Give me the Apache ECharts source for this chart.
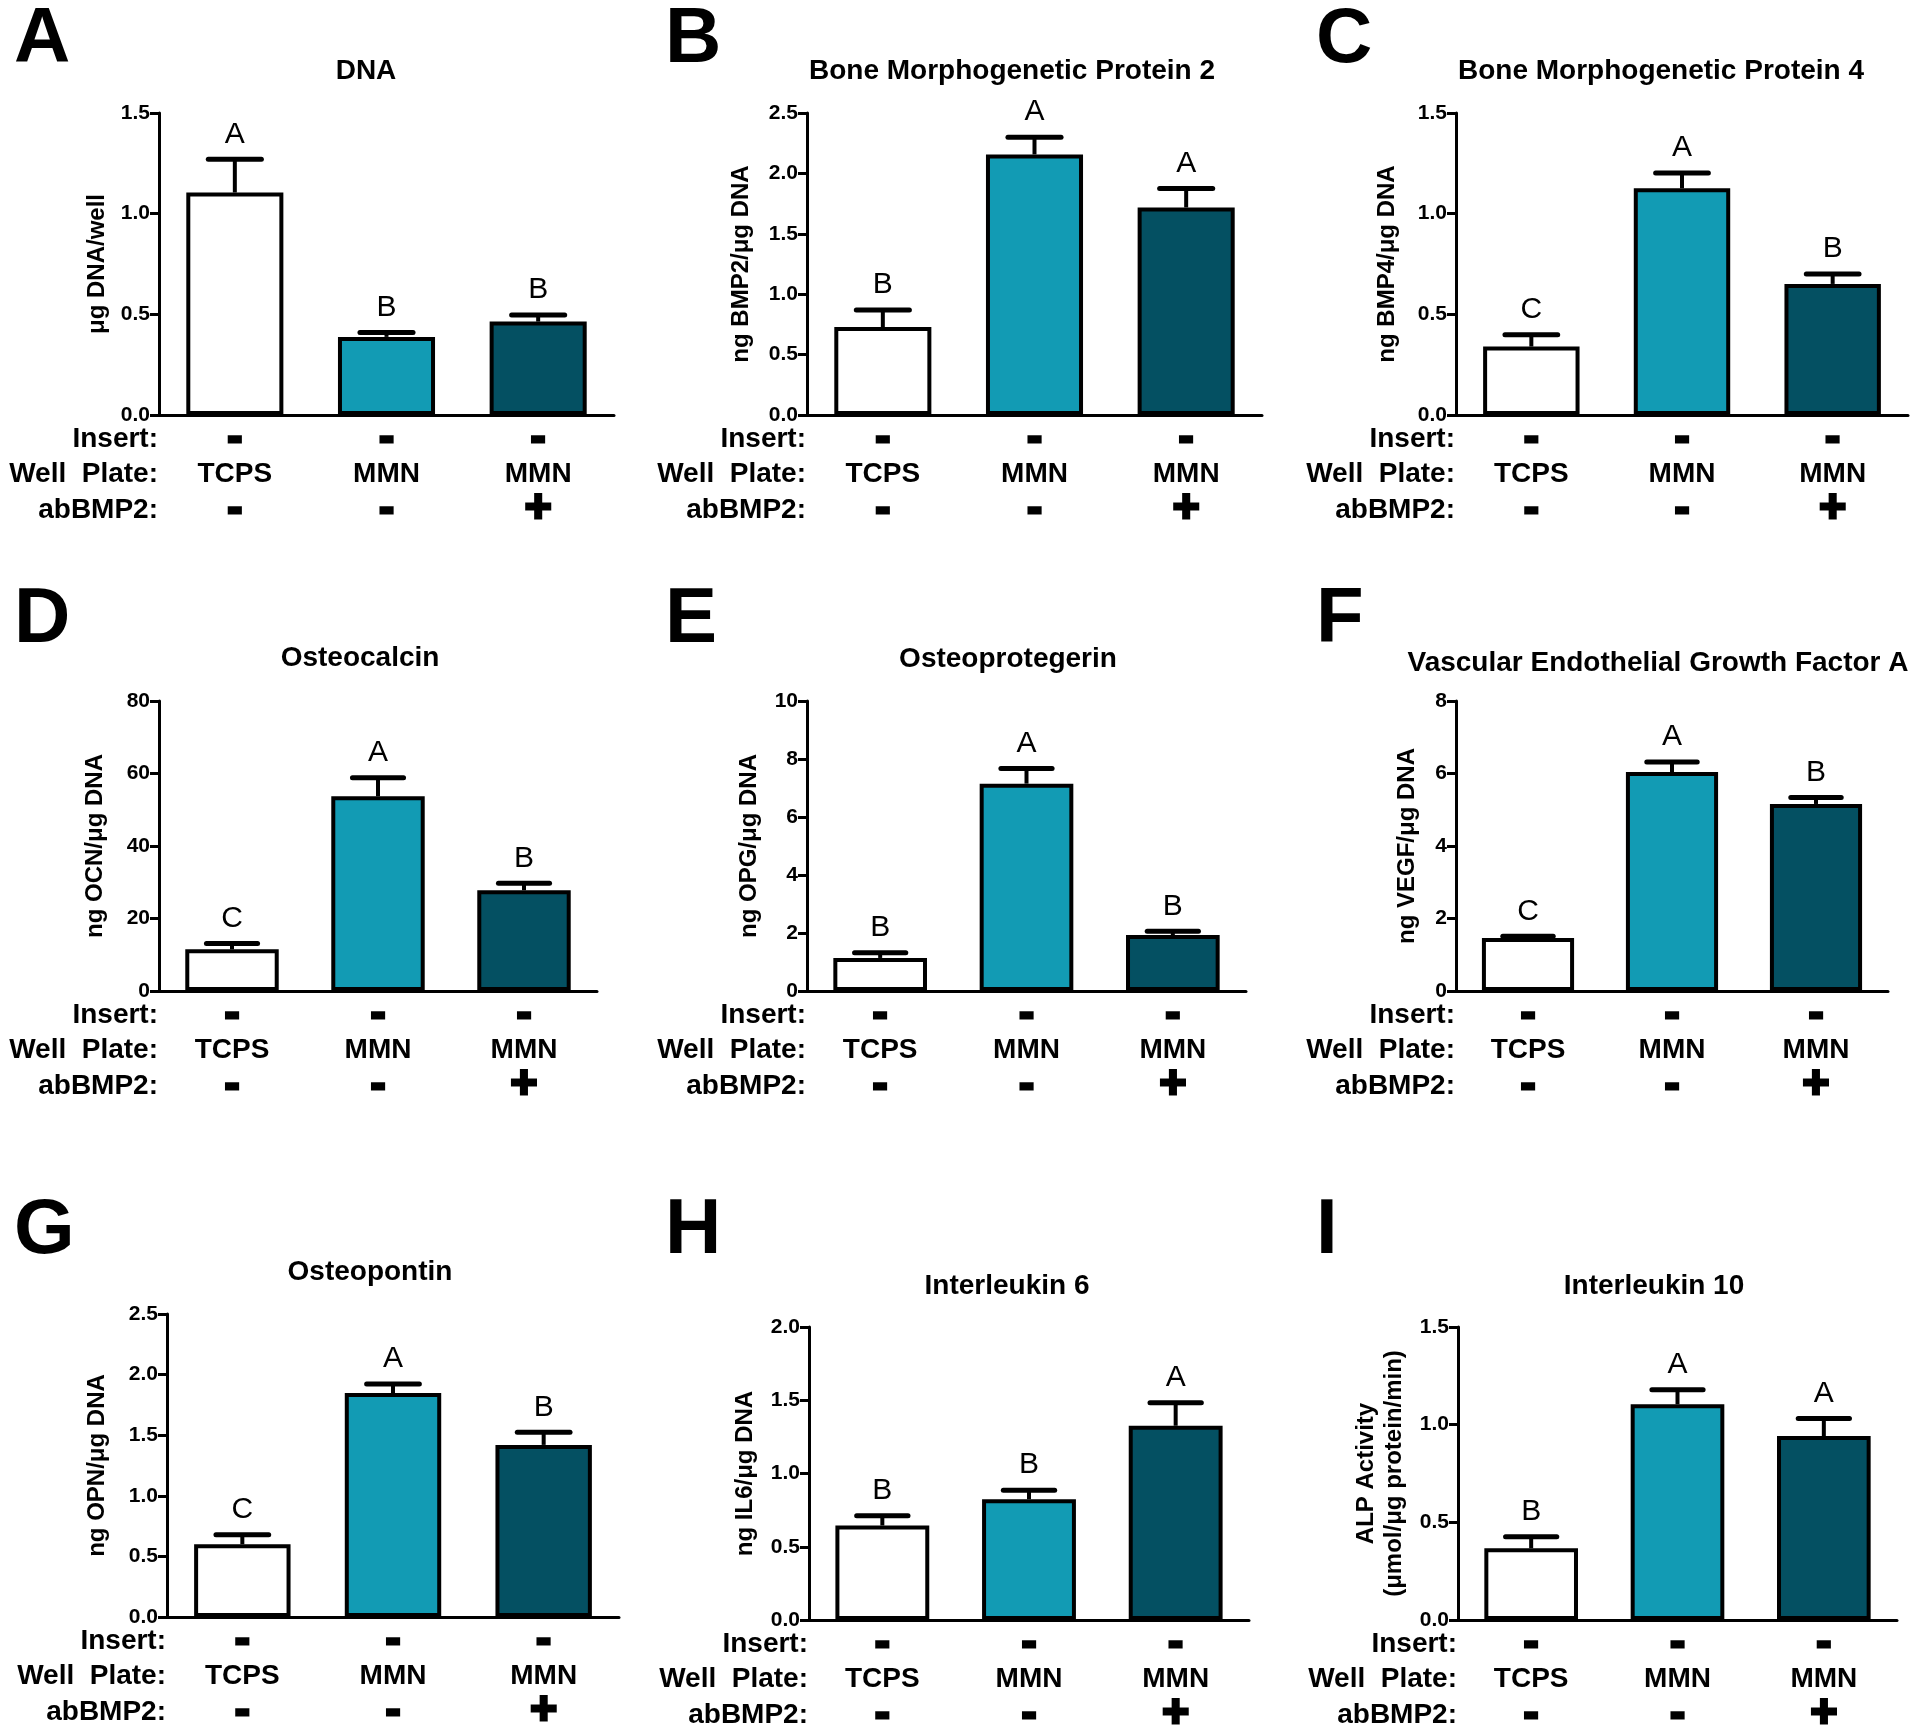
<!DOCTYPE html>
<html>
<head>
<meta charset="utf-8">
<title>Osteogenic markers</title>
<script src="https://cdn.jsdelivr.net/npm/echarts@6/dist/echarts.min.js"></script>
<style>
  html, body { margin: 0; padding: 0; background: #fff; }
  #main { width: 1920px; height: 1729px; }
</style>
</head>
<body>
<div id="main"></div>
<script>
// groups (x axis rows)
var insertRow = ['-', '-', '-'];
var wellPlate = ['TCPS', 'MMN', 'MMN'];
var abBmp2Row = ['-', '-', '+'];

// panel text
var panelTags = ['A', 'B', 'C', 'D', 'E', 'F', 'G', 'H', 'I'];
var titles = ['DNA', 'Bone Morphogenetic Protein 2', 'Bone Morphogenetic Protein 4',
  'Osteocalcin', 'Osteoprotegerin', 'Vascular Endothelial Growth Factor A',
  'Osteopontin', 'Interleukin 6', 'Interleukin 10'];
var yNames = ['μg DNA/well', 'ng BMP2/μg DNA', 'ng BMP4/μg DNA',
  'ng OCN/μg DNA', 'ng OPG/μg DNA', 'ng VEGF/μg DNA',
  'ng OPN/μg DNA', 'ng IL6/μg DNA', 'ALP Activity\n(μmol/μg protein/min)'];

// y axis ticks
var yMax = [1.5, 2.5, 1.5, 80, 10, 8, 2.5, 2.0, 1.5];
var yStep = [0.5, 0.5, 0.5, 20, 2, 2, 0.5, 0.5, 0.5];
var yDecimals = [1, 1, 1, 0, 0, 0, 1, 1, 1];

// means, upper error (sem) and letters
var dnaMean = [1.105, 0.388, 0.464], dnaSem = [0.165, 0.022, 0.033], dnaSig = ['A', 'B', 'B'];
var bmp2Mean = [0.728, 2.157, 1.718], bmp2Sem = [0.142, 0.143, 0.156], bmp2Sig = ['B', 'A', 'A'];
var bmp4Mean = [0.340, 1.126, 0.651], bmp4Sem = [0.058, 0.076, 0.049], bmp4Sig = ['C', 'A', 'B'];
var ocnMean = [11.5, 53.7, 27.8], ocnSem = [1.6, 5.1, 1.9], ocnSig = ['C', 'A', 'B'];
var opgMean = [1.14, 7.15, 1.93], opgSem = [0.18, 0.52, 0.13], opgSig = ['B', 'A', 'B'];
var vegfMean = [1.46, 6.04, 5.16], vegfSem = [0.05, 0.28, 0.18], vegfSig = ['C', 'A', 'B'];
var opnMean = [0.600, 1.848, 1.420], opnSem = [0.078, 0.075, 0.104], opnSig = ['C', 'A', 'B'];
var il6Mean = [0.645, 0.824, 1.326], il6Sem = [0.067, 0.062, 0.157], il6Sig = ['B', 'B', 'A'];
var il10Mean = [0.367, 1.104, 0.942], il10Sem = [0.059, 0.075, 0.089], il10Sig = ['B', 'A', 'A'];

var means = [dnaMean, bmp2Mean, bmp4Mean, ocnMean, opgMean, vegfMean, opnMean, il6Mean, il10Mean];
var sems = [dnaSem, bmp2Sem, bmp4Sem, ocnSem, opgSem, vegfSem, opnSem, il6Sem, il10Sem];
var sigs = [dnaSig, bmp2Sig, bmp4Sig, ocnSig, opgSig, vegfSig, opnSig, il6Sig, il10Sig];

var barColors = ['#ffffff', '#129bb4', '#045062'];

// panel placement (px)
var layout = [
  {left: 159, top: 113, width: 455, height: 302, gap: 48, tx: 366, ty: 68, lx: 14, ly: 40},
  {left: 807, top: 113, width: 455, height: 302, gap: 52, tx: 1012, ty: 68, lx: 665, ly: 40},
  {left: 1456, top: 113, width: 452, height: 302, gap: 55, tx: 1661, ty: 68, lx: 1316, ly: 40},
  {left: 159, top: 701, width: 438, height: 290, gap: 50, tx: 360, ty: 655, lx: 14, ly: 620},
  {left: 807, top: 701, width: 439, height: 290, gap: 44, tx: 1008, ty: 656, lx: 665, ly: 620},
  {left: 1456, top: 701, width: 432, height: 290, gap: 35, tx: 1658, ty: 660, lx: 1316, ly: 620},
  {left: 167, top: 1314, width: 452, height: 303, gap: 56, tx: 370, ty: 1269, lx: 14, ly: 1231},
  {left: 809, top: 1327, width: 440, height: 293, gap: 50, tx: 1007, ty: 1283, lx: 665, ly: 1231},
  {left: 1458, top: 1327, width: 439, height: 293, gap: 50, tx: 1654, ty: 1283, lx: 1316, ly: 1231}
];

var FONT = '"Liberation Sans", Arial, Helvetica, sans-serif';

var grids = [], xAxes = [], yAxes = [], series = [], titleList = [], graphics = [];

layout.forEach(function (p, k) {
  grids.push({left: p.left, top: p.top, width: p.width, height: p.height,
    containLabel: false, outerBoundsMode: 'none'});

  xAxes.push({
    type: 'category', gridIndex: k, data: wellPlate.map(function (w, i) { return i; }),
    axisLine: {lineStyle: {color: '#000', width: 3}},
    axisTick: {alignWithLabel: true, length: 9, lineStyle: {color: '#000', width: 3}},
    axisLabel: {
      margin: 6, interval: 0, color: '#000',
      formatter: function (v, i) {
        var s = abBmp2Row[i] === '+' ? 'pl' : 'mi';
        return '{mi|' + insertRow[i] + '}\n{p|' + wellPlate[i] + '}\n{' + s + '|' + abBmp2Row[i] + '}';
      },
      rich: {
        mi: {fontFamily: FONT, fontWeight: 'bold', fontSize: 44, lineHeight: 35.5, textBorderColor: '#000', textBorderWidth: 3},
        pl: {fontFamily: FONT, fontWeight: 'bold', fontSize: 46, lineHeight: 35.5, textBorderColor: '#000', textBorderWidth: 3},
        p: {fontFamily: FONT, fontWeight: 'bold', fontSize: 28, lineHeight: 35.5}
      }
    }
  });

  yAxes.push({
    type: 'value', gridIndex: k, min: 0, max: yMax[k], interval: yStep[k],
    name: yNames[k], nameLocation: 'middle', nameGap: p.gap, nameRotate: 90,
    nameTextStyle: {fontFamily: FONT, fontWeight: 'bold', fontSize: 24, color: '#000', lineHeight: 28},
    axisLine: {show: true, lineStyle: {color: '#000', width: 3}},
    axisTick: {show: true, length: 9, lineStyle: {color: '#000', width: 3}},
    splitLine: {show: false},
    axisLabel: {
      margin: 9, color: '#000', fontFamily: FONT, fontWeight: 'bold', fontSize: 21,
      formatter: (function (d) { return function (v) { return v.toFixed(d); }; })(yDecimals[k])
    }
  });

  series.push({
    type: 'bar', xAxisIndex: k, yAxisIndex: k, barWidth: '64%',
    itemStyle: {borderColor: '#000', borderWidth: 4},
    data: means[k].map(function (v, i) { return {value: v, itemStyle: {color: barColors[i]}}; }),
    z: 2
  });

  var letters = sigs[k];
  series.push({
    type: 'custom', xAxisIndex: k, yAxisIndex: k, z: 3,
    encode: {x: 0, y: [1, 2]},
    data: means[k].map(function (v, i) { return [i, v, v + sems[k][i]]; }),
    renderItem: function (params, api) {
      var base = api.coord([api.value(0), api.value(1)]);
      var top = api.coord([api.value(0), api.value(2)]);
      var half = api.size([1, 0])[0] * 0.175;
      return {
        type: 'group',
        children: [
          {type: 'line', shape: {x1: base[0], y1: base[1], x2: top[0], y2: top[1]},
            style: {stroke: '#000', lineWidth: 4}},
          {type: 'line', shape: {x1: top[0] - half, y1: top[1], x2: top[0] + half, y2: top[1]},
            style: {stroke: '#000', lineWidth: 5, lineCap: 'round'}},
          {type: 'text', x: top[0], y: top[1] - 10,
            style: {text: letters[params.dataIndex], fill: '#000', font: '30px ' + FONT,
              align: 'center', verticalAlign: 'bottom'}}
        ]
      };
    }
  });

  titleList.push({
    text: titles[k], left: p.tx, top: p.ty - 11, textAlign: 'center', padding: 0,
    textStyle: {fontFamily: FONT, fontWeight: 'bold', fontSize: 28, color: '#000'}
  });

  // panel tag
  graphics.push({type: 'text', x: p.lx, y: p.ly,
    style: {text: panelTags[k], fill: '#000', font: 'bold 78px ' + FONT, align: 'left', verticalAlign: 'middle'}});

  // row headers
  var yb = p.top + p.height;
  [['Insert:', 24], ['Well  Plate:', 59], ['abBMP2:', 95]].forEach(function (h) {
    graphics.push({type: 'text', x: p.left - 1, y: yb + h[1],
      style: {text: h[0], fill: '#000', font: 'bold 28px ' + FONT, align: 'right', verticalAlign: 'middle'}});
  });
});

var chart = echarts.init(document.getElementById('main'), null, {renderer: 'canvas'});
chart.setOption({
  backgroundColor: '#fff',
  animation: false,
  title: titleList,
  grid: grids,
  xAxis: xAxes,
  yAxis: yAxes,
  series: series,
  graphic: graphics
});
</script>
</body>
</html>
